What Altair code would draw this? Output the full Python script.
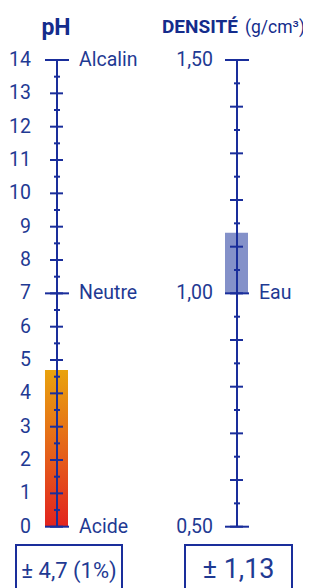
import altair as alt
import pandas as pd

# ---------------- data ----------------
ph_major = [0, 1, 2, 3, 4, 5, 6, 7, 8, 9, 10, 11, 12, 13, 14]
ph_minor = [0.5, 1.5, 2.5, 3.5, 4.5, 5.5, 6.5, 7.5, 8.5, 9.5, 10.5, 11.5, 12.5, 13.5]
ph_long = [0, 7, 14]
ph_side_vals = [0, 7, 14]
ph_side_text = ["Acide", "Neutre", "Alcalin"]
ph_bar = [0, 4.7]
ph_box = ["± 4,7 (1%)"]

dens_major = [0.5, 0.6, 0.7, 0.8, 0.9, 1.0, 1.1, 1.2, 1.3, 1.4, 1.5]
dens_minor = [0.55, 0.65, 0.75, 0.85, 0.95, 1.05, 1.15, 1.25, 1.35, 1.45]
dens_long = [0.50, 1.00, 1.50]
dens_label_vals = [0.50, 1.00, 1.50]
dens_label_text = ["0,50", "1,00", "1,50"]
dens_side_vals = [1.00]
dens_side_text = ["Eau"]
dens_bar = [1.00, 1.13]
dens_box = ["± 1,13"]

# ---------------- style ----------------
FONT = "Roboto"
LINE = "#1A2E9B"
TXT = "#1F3A93"
TITLE = "#142C8C"
Y_TOP, Y_BOT = 52, 518.7

ph_scale = alt.Scale(domain=[0, 14], range=[Y_BOT, Y_TOP])
dens_scale = alt.Scale(domain=[0.5, 1.5], range=[Y_BOT, Y_TOP])


def gauge(scale, lo, hi, major, minor, long_, cx, bar_df, bar_fill, label_df, side_df, lab_gap):
    line_df = pd.DataFrame({"v": [lo], "v2": [hi]})
    axis_line = alt.Chart(line_df).mark_rule(color=LINE, strokeWidth=2).encode(
        y=alt.Y("v:Q", scale=scale, axis=None), y2="v2:Q",
        x=alt.value(cx))
    bar = alt.Chart(bar_df).mark_rect(fill=bar_fill).encode(
        y=alt.Y("a:Q", scale=scale, axis=None), y2="b:Q",
        x=alt.value(cx - 12), x2=alt.value(cx + 11))
    minor_t = alt.Chart(pd.DataFrame({"v": minor})).mark_rule(color=LINE, strokeWidth=2).encode(
        y=alt.Y("v:Q", scale=scale, axis=None),
        x=alt.value(cx - 3), x2=alt.value(cx + 3))
    major_t = alt.Chart(pd.DataFrame({"v": major})).mark_rule(color=LINE, strokeWidth=2).encode(
        y=alt.Y("v:Q", scale=scale, axis=None),
        x=alt.value(cx - 7), x2=alt.value(cx + 6))
    long_t = alt.Chart(pd.DataFrame({"v": long_})).mark_rule(color=LINE, strokeWidth=2).encode(
        y=alt.Y("v:Q", scale=scale, axis=None),
        x=alt.value(cx - 12), x2=alt.value(cx + 12))
    labels = alt.Chart(label_df).mark_text(
        font=FONT, fontSize=19.5, color=TXT, align="right", baseline="middle").encode(
        y=alt.Y("v:Q", scale=scale, axis=None), text="t:N",
        x=alt.value(cx - lab_gap))
    side = alt.Chart(side_df).mark_text(
        font=FONT, fontSize=19.5, color=TXT, align="left", baseline="middle").encode(
        y=alt.Y("v:Q", scale=scale, axis=None), text="t:N",
        x=alt.value(cx + 22))
    return alt.layer(bar, axis_line, minor_t, major_t, long_t, labels, side)


ph_grad = alt.Gradient(
    gradient="linear",
    stops=[alt.GradientStop(color="#E9A30E", offset=0),
           alt.GradientStop(color="#E5651A", offset=0.5),
           alt.GradientStop(color="#E2231F", offset=1)],
    x1=0, x2=0, y1=0, y2=1)

ph_layer = gauge(
    ph_scale, 0, 14, ph_major, ph_minor, ph_long, 49,
    pd.DataFrame({"a": [ph_bar[0]], "b": [ph_bar[1]]}), ph_grad,
    pd.DataFrame({"v": ph_major, "t": [str(v) for v in ph_major]}),
    pd.DataFrame({"v": ph_side_vals, "t": ph_side_text}), 26)

dens_layer = gauge(
    dens_scale, 0.5, 1.5, dens_major, dens_minor, dens_long, 229,
    pd.DataFrame({"a": [dens_bar[0]], "b": [dens_bar[1]]}), "#8491C9",
    pd.DataFrame({"v": dens_label_vals, "t": dens_label_text}),
    pd.DataFrame({"v": dens_side_vals, "t": dens_side_text}), 24)


def text(s, x, y, size, weight="normal", align="left", color=TXT):
    return alt.Chart(pd.DataFrame({"t": [s]})).mark_text(
        font=FONT, fontSize=size, fontWeight=weight, color=color,
        align=align, baseline="alphabetic").encode(
        text="t:N", x=alt.value(x), y=alt.value(y))


def box(x1, x2):
    return alt.Chart(pd.DataFrame({"k": [0]})).mark_rect(
        fill="white", stroke=LINE, strokeWidth=2).encode(
        x=alt.value(x1), x2=alt.value(x2), y=alt.value(537), y2=alt.value(640))


deco = alt.layer(
    text("pH", 48, 27, 23, "bold", "center", TITLE),
    text("DENSITÉ", 154, 25, 19, "bold", "left", TITLE),
    text("(g/cm³)", 237, 25, 17.5, "normal", "left", TITLE),
    box(8, 114),
    box(177, 284),
    text(ph_box[0], 61, 570, 22, "normal", "center"),
    text(dens_box[0], 230.5, 570, 27, "normal", "center"),
)

chart = alt.layer(ph_layer, dens_layer, deco).resolve_scale(y="independent").properties(
    width=295, height=620, padding=0, autosize=alt.AutoSizeParams(type="none")
).configure_view(stroke=None)

chart.save("out.html", embed_options={"renderer": "svg", "actions": False})
